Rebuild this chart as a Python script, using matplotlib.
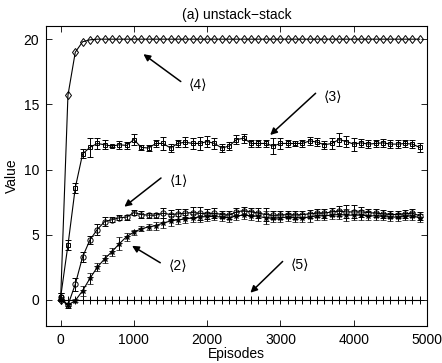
import matplotlib
matplotlib.use('Agg')
import matplotlib.pyplot as plt
import numpy as np

plt.rcParams['font.family'] = ['Liberation Sans', 'DejaVu Sans']

episodes = np.arange(0, 5000, 100)

s1 = [0.2, -0.4, 1.2, 3.3, 4.6, 5.4, 6.0, 6.15, 6.3, 6.35,
      6.7, 6.55, 6.5, 6.5, 6.65, 6.55, 6.6, 6.65, 6.7, 6.65,
      6.6, 6.65, 6.55, 6.5, 6.75, 6.85, 6.75, 6.65, 6.55, 6.5,
      6.5, 6.55, 6.5, 6.55, 6.6, 6.65, 6.65, 6.75, 6.8, 6.75,
      6.75, 6.75, 6.7, 6.65, 6.6, 6.55, 6.55, 6.6, 6.65, 6.45]
e1 = [0.3, 0.2, 0.5, 0.4, 0.3, 0.4, 0.35, 0.2, 0.2, 0.2,
      0.2, 0.3, 0.2, 0.2, 0.4, 0.35, 0.4, 0.3, 0.4, 0.5,
      0.4, 0.4, 0.3, 0.3, 0.3, 0.3, 0.3, 0.4, 0.5, 0.3,
      0.3, 0.3, 0.3, 0.3, 0.3, 0.3, 0.35, 0.3, 0.4, 0.5,
      0.5, 0.4, 0.3, 0.3, 0.3, 0.3, 0.3, 0.3, 0.3, 0.3]

s2 = [0.0, -0.4, -0.05, 0.7, 1.65, 2.5, 3.15, 3.7, 4.3, 4.85,
      5.2, 5.45, 5.6, 5.7, 5.9, 6.05, 6.15, 6.2, 6.3, 6.35,
      6.4, 6.4, 6.35, 6.3, 6.45, 6.5, 6.45, 6.4, 6.3, 6.25,
      6.3, 6.35, 6.3, 6.3, 6.35, 6.45, 6.45, 6.5, 6.55, 6.5,
      6.5, 6.5, 6.45, 6.45, 6.4, 6.35, 6.35, 6.4, 6.45, 6.3]
e2 = [0.1, 0.1, 0.1, 0.4, 0.4, 0.3, 0.3, 0.3, 0.5, 0.3,
      0.2, 0.2, 0.25, 0.3, 0.4, 0.35, 0.3, 0.3, 0.3, 0.35,
      0.35, 0.3, 0.3, 0.3, 0.3, 0.3, 0.35, 0.35, 0.5, 0.3,
      0.3, 0.3, 0.3, 0.3, 0.35, 0.3, 0.3, 0.3, 0.35, 0.45,
      0.4, 0.4, 0.35, 0.3, 0.3, 0.3, 0.3, 0.3, 0.3, 0.3]

s3 = [0.2, 4.2, 8.6, 11.2, 11.7, 12.0, 11.9, 11.8, 11.9, 11.85,
      12.3, 11.7, 11.65, 12.0, 12.0, 11.65, 12.0, 12.1, 12.0, 12.0,
      12.15, 12.0, 11.65, 11.8, 12.3, 12.4, 12.0, 12.0, 12.0, 11.8,
      12.0, 12.0, 12.0, 12.0, 12.2, 12.1, 11.9, 12.0, 12.3, 12.15,
      11.95, 12.05, 11.95, 12.0, 12.05, 11.95, 11.95, 12.0, 11.95, 11.7]
e3 = [0.3, 0.4, 0.4, 0.35, 0.7, 0.4, 0.35, 0.1, 0.3, 0.3,
      0.4, 0.2, 0.2, 0.3, 0.5, 0.3, 0.3, 0.4, 0.4, 0.5,
      0.4, 0.4, 0.3, 0.3, 0.35, 0.35, 0.3, 0.3, 0.3, 0.6,
      0.4, 0.3, 0.2, 0.3, 0.3, 0.3, 0.3, 0.4, 0.5, 0.4,
      0.5, 0.3, 0.3, 0.3, 0.3, 0.3, 0.3, 0.3, 0.3, 0.35]

s4 = [0.0, 15.7, 19.0, 19.8, 19.95] + [20.0] * 45
s5 = [0.0] * 50

# annotations: label, text position, arrow tip
notes = [
    ('⟨4⟩', (1880, 16.5), (1130, 18.85)),
    ('⟨3⟩', (3720, 15.6), (2860, 12.65)),
    ('⟨1⟩', (1610, 9.1), (870, 7.15)),
    ('⟨2⟩', (1600, 2.6), (975, 4.15)),
    ('⟨5⟩', (3270, 2.7), (2590, 0.55)),
]

fig = plt.figure(figsize=(4.42, 3.63), dpi=100)
ax = fig.add_axes([0.104, 0.102, 0.862, 0.826])

eb = dict(color='black', lw=0.8, elinewidth=0.7, capsize=2.3, capthick=0.7)
ax.errorbar(episodes, s3, yerr=e3, marker='s', ms=3.2, mfc='none',
            mec='black', mew=0.7, **eb)
ax.errorbar(episodes, s1, yerr=e1, marker='o', ms=3.8, mfc='none',
            mec='black', mew=0.7, **eb)
ax.errorbar(episodes, s2, yerr=e2, marker='*', ms=4, mfc='black',
            mec='black', mew=0.5, **eb)
ax.plot(episodes, s4, color='black', lw=0.8, marker='d', ms=4.3,
        mfc='none', mew=0.7)
ax.plot(episodes, s5, color='black', lw=0.8, marker='+', ms=5.5, mew=0.7)

for label, txt, tip in notes:
    ax.annotate('', xy=tip, xytext=(txt[0] - 240, txt[1] + 0.25),
                arrowprops=dict(arrowstyle='-|>', color='black', lw=1.1,
                                mutation_scale=10, shrinkA=0, shrinkB=0))
    ax.text(txt[0], txt[1], label, fontsize=10, ha='center', va='center')

ax.set_xlim(-200, 5000)
ax.set_ylim(-2, 21)
ax.set_xticks([0, 1000, 2000, 3000, 4000, 5000])
ax.set_yticks([0, 5, 10, 15, 20])
ax.tick_params(direction='in', top=True, right=True, length=4,
               width=0.6, labelsize=10, pad=5)
for sp in ax.spines.values():
    sp.set_linewidth(0.8)

ax.set_xlabel('Episodes', fontsize=10, labelpad=0)
ax.set_ylabel('Value', fontsize=10, labelpad=3)
ax.set_title('(a) unstack−stack', fontsize=10, pad=5)

fig.savefig('out.png', dpi=100)
